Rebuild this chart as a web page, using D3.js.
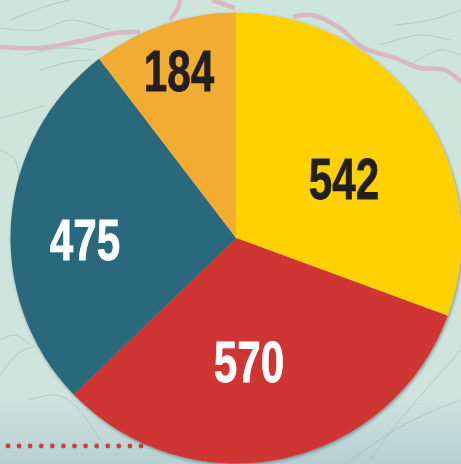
<!DOCTYPE html>
<html><head><meta charset="utf-8">
<script src="https://cdn.jsdelivr.net/npm/d3@7"></script>
<style>html,body{margin:0;padding:0;background:#cfe4dc;overflow:hidden}svg{display:block}</style>
</head><body>
<svg id="c" width="461" height="464"></svg>
<script>
const values = [542, 570, 475, 184];
const labels = ["542", "570", "475", "184"];
const colors = ["#ffd100", "#cf3533", "#2b697c", "#f2ac32"];
const labelColors = ["#231f20", "#ffffff", "#ffffff", "#231f20"];
const labelSpots = [[344,180],[249,363],[85,241],[179,72]];
const dotIndex = d3.range(13);
const borders = [
  [[0,47],[40,48],[85,40],[115,33],[140,32]],
  [[170,20],[178,8],[180,0]],
  [[212,0],[235,8]],
  [[293,17],[312,15],[340,28],[362,47],[395,58],[420,68],[445,70],[461,82]]
];
const faintLines = [
  [[10,20],[50,5],[70,0]],[[0,28],[40,30],[70,20],[110,30]],[[25,55],[60,48],[95,50]],[[40,70],[70,62],[90,60]],
  [[0,118],[30,110],[45,105]],[[0,150],[15,160],[20,190]],[[0,340],[15,335],[30,345]],[[0,375],[20,352],[40,345]],
  [[30,400],[55,395],[75,405],[100,440]],[[370,460],[400,420],[430,385],[461,350]],[[345,464],[395,430],[435,410],[461,400]],
  [[395,25],[430,20],[461,10]],[[380,45],[420,35],[450,40]],[[410,65],[440,50],[461,55]]
];

const svg = d3.select("#c"), W = 461, H = 464;
const defs = svg.append("defs");
const bg = defs.append("linearGradient").attr("id","bg").attr("x1",0).attr("y1",0).attr("x2",0).attr("y2",1);
bg.append("stop").attr("offset","0").attr("stop-color","#cde5dc");
bg.append("stop").attr("offset","0.85").attr("stop-color","#cfe4dc");
bg.append("stop").attr("offset","1").attr("stop-color","#b5cfd2");
const sh = defs.append("filter").attr("id","sh").attr("x","-5%").attr("y","-5%").attr("width","110%").attr("height","110%");
sh.append("feDropShadow").attr("dx",1).attr("dy",1.5).attr("stdDeviation",1.5).attr("flood-color","#1d4a50").attr("flood-opacity",0.5);
defs.append("filter").attr("id","soft").append("feGaussianBlur").attr("stdDeviation",0.7);

svg.append("rect").attr("width",W).attr("height",H).attr("fill","url(#bg)");
const line = d3.line().curve(d3.curveCatmullRom);
svg.append("g").attr("filter","url(#soft)").selectAll("path").data(faintLines).join("path")
  .attr("d",line).attr("fill","none").attr("stroke","#9db9b2").attr("stroke-width",1).attr("opacity",0.6);
svg.append("g").attr("filter","url(#soft)").selectAll("path").data(borders).join("path")
  .attr("d",line).attr("fill","none").attr("stroke","#d9b3c0").attr("stroke-width",4.5).attr("opacity",0.9);

const x = d3.scaleLinear().domain([0,12]).range([8,141]);
svg.append("g").selectAll("circle").data(dotIndex).join("circle")
  .attr("cx",d=>x(d)).attr("cy",446).attr("r",2.4).attr("fill","#d8393a");

const cx = 236, cy = 238, R = 225.5;
const pie = d3.pie().sort(null)(values);
const arc = d3.arc().innerRadius(0).outerRadius(R);
const g = svg.append("g").attr("transform",`translate(${cx},${cy})`).attr("filter","url(#sh)");
g.selectAll("path").data(pie).join("path").attr("d",arc).attr("fill",(d,i)=>colors[i]);

svg.append("g").selectAll("text").data(labels).join("text")
  .attr("transform",(d,i)=>`translate(${labelSpots[i][0]},${labelSpots[i][1]}) scale(0.74,1)`)
  .attr("text-anchor","middle").attr("dominant-baseline","central")
  .attr("font-family","'Liberation Sans', Arial, sans-serif").attr("font-weight",700)
  .attr("font-size",57).attr("stroke-width",0.8)
  .attr("fill",(d,i)=>labelColors[i]).attr("stroke",(d,i)=>labelColors[i]).text(d=>d);
</script>
</body></html>
